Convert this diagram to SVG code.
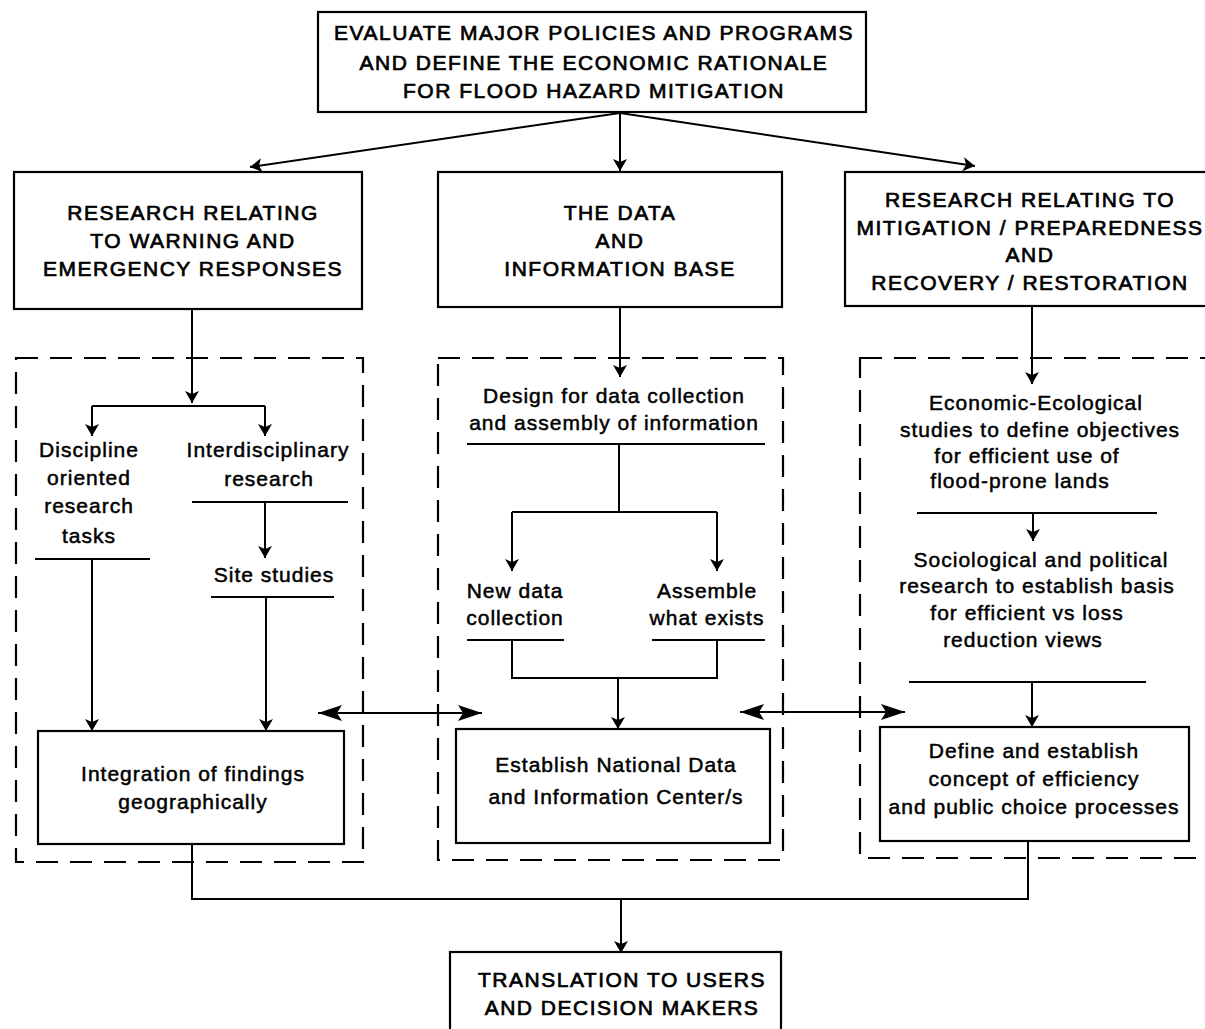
<svg xmlns="http://www.w3.org/2000/svg" width="1205" height="1029" viewBox="0 0 1205 1029">
<style>
.bg{fill:#fff}
.box{fill:none;stroke:#000;stroke-width:2.2}
.dash{fill:none;stroke:#000;stroke-width:2.2;stroke-dasharray:22 12}
.ln{fill:none;stroke:#000;stroke-width:2}
.cap{font-family:"Liberation Sans",Arial,sans-serif;font-size:21px;letter-spacing:1.5px;text-anchor:middle;fill:#000;stroke:#000;stroke-width:0.7px}
.low{font-family:"Liberation Sans",Arial,sans-serif;font-size:21px;letter-spacing:1px;text-anchor:middle;fill:#000;stroke:#000;stroke-width:0.5px}
</style>
<defs>
<marker id="ah" markerUnits="userSpaceOnUse" markerWidth="12" markerHeight="16" viewBox="0 0 12 16" refX="12" refY="8" orient="auto">
<path d="M0,1 L12,8 L0,15 L3,8 Z" fill="#000"/>
</marker>
<marker id="big" markerUnits="userSpaceOnUse" markerWidth="24" markerHeight="18" viewBox="0 0 24 18" refX="24" refY="9" orient="auto-start-reverse">
<path d="M0,1 L24,9 L0,17 L5,9 Z" fill="#000"/>
</marker>
</defs>
<rect class="bg" x="0" y="0" width="1205" height="1029"/>

<g id="connectors">
<line class="ln" x1="620" y1="113" x2="250" y2="167" marker-end="url(#ah)"/>
<line class="ln" x1="620" y1="113" x2="620" y2="171" marker-end="url(#ah)"/>
<line class="ln" x1="620" y1="113" x2="975" y2="166" marker-end="url(#ah)"/>

<line class="ln" x1="192" y1="309" x2="192" y2="403" marker-end="url(#ah)"/>
<line class="ln" x1="92" y1="406" x2="265" y2="406"/>
<line class="ln" x1="92" y1="406" x2="92" y2="436" marker-end="url(#ah)"/>
<line class="ln" x1="265" y1="406" x2="265" y2="436" marker-end="url(#ah)"/>
<line class="ln" x1="265" y1="502" x2="265" y2="558" marker-end="url(#ah)"/>
<line class="ln" x1="92" y1="559" x2="92" y2="731" marker-end="url(#ah)"/>
<line class="ln" x1="266" y1="597" x2="266" y2="731" marker-end="url(#ah)"/>

<line class="ln" x1="620" y1="307" x2="620" y2="377" marker-end="url(#ah)"/>
<line class="ln" x1="619" y1="444" x2="619" y2="512"/>
<line class="ln" x1="512" y1="512" x2="717" y2="512"/>
<line class="ln" x1="512" y1="512" x2="512" y2="571" marker-end="url(#ah)"/>
<line class="ln" x1="717" y1="512" x2="717" y2="571" marker-end="url(#ah)"/>
<path class="ln" d="M512,640 V678 H717 V640"/>
<line class="ln" x1="618" y1="678" x2="618" y2="729" marker-end="url(#ah)"/>

<line class="ln" x1="1032" y1="306" x2="1032" y2="384" marker-end="url(#ah)"/>
<line class="ln" x1="1033" y1="513" x2="1033" y2="541" marker-end="url(#ah)"/>
<line class="ln" x1="1032" y1="682" x2="1032" y2="727" marker-end="url(#ah)"/>

<line class="ln" x1="318" y1="713" x2="482" y2="713" stroke-width="2.5" marker-start="url(#big)" marker-end="url(#big)"/>
<line class="ln" x1="740" y1="712" x2="905" y2="712" stroke-width="2.5" marker-start="url(#big)" marker-end="url(#big)"/>

<path class="ln" d="M192,844 V899 H1028 V841"/>
<line class="ln" x1="621" y1="899" x2="621" y2="953" marker-end="url(#ah)"/>
</g>

<g id="top">
<rect class="box" x="318" y="12" width="548" height="100"/>
<text class="cap" x="594" y="40">EVALUATE MAJOR POLICIES AND PROGRAMS</text>
<text class="cap" x="594" y="70">AND DEFINE THE ECONOMIC RATIONALE</text>
<text class="cap" x="594" y="98">FOR FLOOD HAZARD MITIGATION</text>
</g>

<g id="warning">
<rect class="box" x="14" y="172" width="348" height="137"/>
<text class="cap" x="193" y="220">RESEARCH RELATING</text>
<text class="cap" x="193" y="248">TO WARNING AND</text>
<text class="cap" x="193" y="276">EMERGENCY RESPONSES</text>
</g>

<g id="database">
<rect class="box" x="438" y="172" width="344" height="135"/>
<text class="cap" x="620" y="220">THE DATA</text>
<text class="cap" x="620" y="248">AND</text>
<text class="cap" x="620" y="276">INFORMATION BASE</text>
</g>

<g id="mitigation">
<rect class="box" x="845" y="172" width="370" height="134"/>
<text class="cap" x="1030" y="207">RESEARCH RELATING TO</text>
<text class="cap" x="1030" y="235">MITIGATION / PREPAREDNESS</text>
<text class="cap" x="1030" y="262">AND</text>
<text class="cap" x="1030" y="290">RECOVERY / RESTORATION</text>
</g>

<g id="group-left">
<rect class="dash" x="16" y="358" width="347" height="504"/>
</g>
<g id="group-mid">
<rect class="dash" x="438" y="358" width="345" height="502"/>
</g>
<g id="group-right">
<rect class="dash" x="860" y="358" width="360" height="500"/>
</g>

<g id="discipline">
<text class="low" x="89" y="457">Discipline</text>
<text class="low" x="89" y="485">oriented</text>
<text class="low" x="89" y="513">research</text>
<text class="low" x="89" y="543">tasks</text>
<line class="ln" x1="35" y1="559" x2="150" y2="559"/>
</g>

<g id="interdisciplinary">
<text class="low" x="268" y="457">Interdisciplinary</text>
<text class="low" x="269" y="486">research</text>
<line class="ln" x1="192" y1="502" x2="348" y2="502"/>
</g>

<g id="site">
<text class="low" x="274" y="582">Site studies</text>
<line class="ln" x1="211" y1="597" x2="334" y2="597"/>
</g>

<g id="integration">
<rect class="box" x="38" y="731" width="306" height="113"/>
<text class="low" x="193" y="781">Integration of findings</text>
<text class="low" x="193" y="809">geographically</text>
</g>

<g id="design">
<text class="low" x="614" y="403">Design for data collection</text>
<text class="low" x="614" y="430">and assembly of information</text>
<line class="ln" x1="467" y1="444" x2="765" y2="444"/>
</g>

<g id="newdata">
<text class="low" x="515" y="598">New data</text>
<text class="low" x="515" y="625">collection</text>
<line class="ln" x1="467" y1="640" x2="564" y2="640"/>
</g>

<g id="assemble">
<text class="low" x="707" y="598">Assemble</text>
<text class="low" x="707" y="625">what exists</text>
<line class="ln" x1="652" y1="640" x2="765" y2="640"/>
</g>

<g id="center">
<rect class="box" x="456" y="729" width="314" height="114"/>
<text class="low" x="616" y="772">Establish National Data</text>
<text class="low" x="616" y="804">and Information Center/s</text>
</g>

<g id="economic">
<text class="low" x="1036" y="410">Economic-Ecological</text>
<text class="low" x="1040" y="437">studies to define objectives</text>
<text class="low" x="1027" y="463">for efficient use of</text>
<text class="low" x="1020" y="488">flood-prone lands</text>
<line class="ln" x1="917" y1="513" x2="1157" y2="513"/>
</g>

<g id="sociological">
<text class="low" x="1041" y="567">Sociological and political</text>
<text class="low" x="1037" y="593">research to establish basis</text>
<text class="low" x="1027" y="620">for efficient vs loss</text>
<text class="low" x="1023" y="647">reduction views</text>
<line class="ln" x1="909" y1="682" x2="1146" y2="682"/>
</g>

<g id="efficiency">
<rect class="box" x="880" y="727" width="309" height="114"/>
<text class="low" x="1034" y="758">Define and establish</text>
<text class="low" x="1034" y="786">concept of efficiency</text>
<text class="low" x="1034" y="814">and public choice processes</text>
</g>

<g id="translation">
<rect class="box" x="450" y="952" width="331" height="90"/>
<text class="cap" x="622" y="987">TRANSLATION TO USERS</text>
<text class="cap" x="622" y="1015">AND DECISION MAKERS</text>
</g>
</svg>
